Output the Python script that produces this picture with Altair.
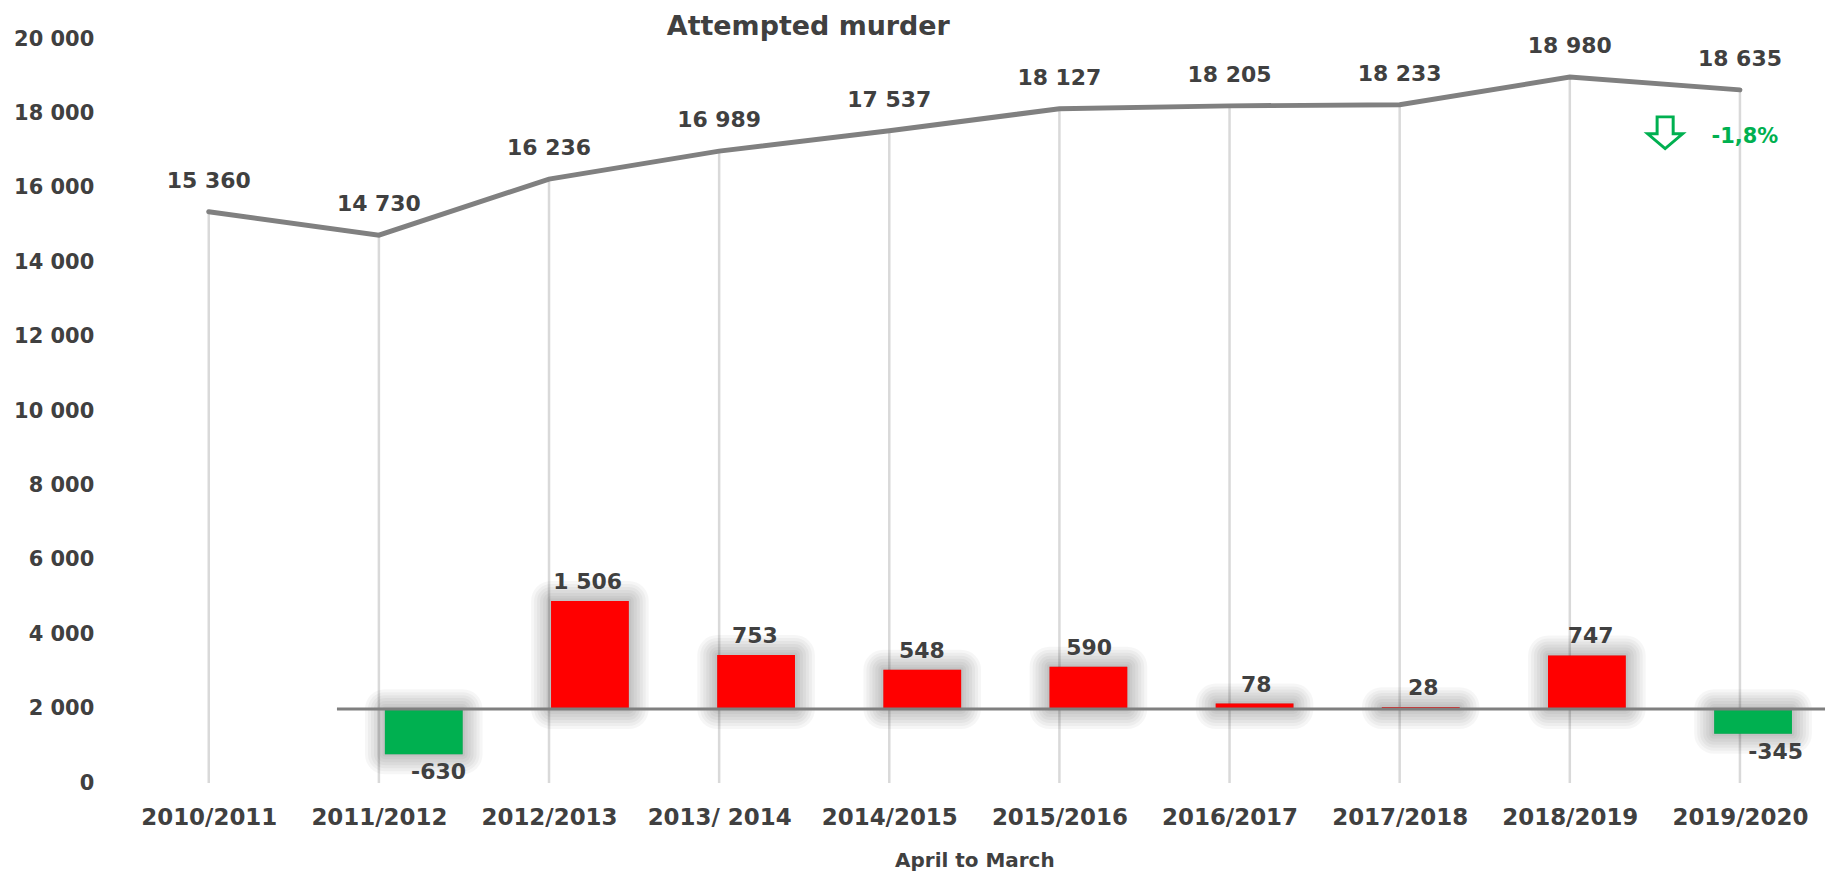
import altair as alt
import pandas as pd

# ---------------- data ----------------
years = ["2010/2011", "2011/2012", "2012/2013", "2013/ 2014", "2014/2015",
         "2015/2016", "2016/2017", "2017/2018", "2018/2019", "2019/2020"]
totals = [15360, 14730, 16236, 16989, 17537, 18127, 18205, 18233, 18980, 18635]
change_years = years[1:]
changes = [-630, 1506, 753, 548, 590, 78, 28, 747, -345]
y_ticks = list(range(0, 20001, 2000))

FONT = "DejaVu Sans"
TXT = "#404040"
GREEN = "#00b050"
RED = "#ff0000"
W, H = 1706, 746


def fmt(v):
    return f"{v:,}".replace(",", " ")


line_df = pd.DataFrame({"year": years, "total": totals, "base": 0,
                        "label": [fmt(v) for v in totals]})
bar_df = pd.DataFrame({"year": change_years,
                       "idx": list(range(1, len(changes) + 1)),
                       "change": changes, "base": 0,
                       "label": [fmt(v) for v in changes]})
pct = (totals[-1] - totals[-2]) / totals[-2] * 100
pct_df = pd.DataFrame({"year": [years[-1]], "total": [totals[-1]],
                       "label": [f"{pct:.1f}".replace(".", ",") + "%"]})

# secondary (change) axis settings
XQ_MIN, XQ_MAX = -0.776, 9.403
SEC_DOMAIN = [-1030, 9330]
base_df = pd.DataFrame({"start": [1 - 0.5], "end": [XQ_MAX], "change": [0]})

# ---------------- shared encodings ----------------
x_scale = alt.Scale(type="point", padding=0.5, domain=years)
y_scale = alt.Scale(domain=[0, 20000], nice=False, zero=False)
x_axis = alt.Axis(labelFont=FONT, labelFontSize=23, labelFontWeight="bold",
                  labelColor=TXT, labelPadding=24, ticks=False, domain=False,
                  grid=False, labelAngle=0, titleFont=FONT, titleFontSize=20,
                  titleFontWeight="bold", titleColor=TXT, titlePadding=21)
y_axis = alt.Axis(values=y_ticks, labelFont=FONT, labelFontSize=21,
                  labelFontWeight="bold", labelColor=TXT, labelPadding=30,
                  ticks=False, domain=False, grid=False,
                  labelExpr="replace(format(datum.value, ','), ',', ' ')")


def xb(axis=None):
    return alt.X("year:N", title="April to March", scale=x_scale, axis=axis)


def ym(axis=None):
    return alt.Y("total:Q", title=None, scale=y_scale, axis=axis)


xq_scale = alt.Scale(domain=[XQ_MIN, XQ_MAX], nice=False, zero=False)
ys_scale = alt.Scale(domain=SEC_DOMAIN, nice=False, zero=False)


def xq():
    return alt.X("idx:Q", scale=xq_scale, axis=None)


def ys():
    return alt.Y("change:Q", scale=ys_scale, axis=None)


# ---------------- primary layers ----------------
drop = alt.Chart(line_df).mark_rule(color="#d9d9d9", strokeWidth=2.5).encode(
    x=xb(x_axis), y=ym(y_axis), y2="base:Q")
line = alt.Chart(line_df).mark_line(color="#808080", strokeWidth=5, strokeCap="round").encode(
    x=xb(), y=ym())
line_lbl = alt.Chart(line_df).mark_text(dy=-31, font=FONT, fontSize=22, fontWeight="bold",
                                        color=TXT, baseline="middle").encode(
    x=xb(), y=ym(), text="label:N")

ARROW = "M -0.46 -0.91 L 0.46 -0.91 L 0.46 0.06 L 1 0.06 L 0 0.91 L -1 0.06 L -0.46 0.06 Z"
arrow = alt.Chart(pct_df).mark_point(shape=ARROW, filled=False, color=GREEN, strokeWidth=3,
                                     size=1225, opacity=1, xOffset=-75, yOffset=43).encode(
    x=xb(), y=ym())
pct_txt = alt.Chart(pct_df).mark_text(dx=5, dy=47, font=FONT, fontSize=21, fontWeight="bold",
                                      color=GREEN, baseline="middle").encode(
    x=xb(), y=ym(), text="label:N")

# ---------------- secondary layers ----------------
shadows = []
for sw in [40, 34, 28, 22, 16, 10, 5]:
    shadows.append(alt.Chart(bar_df).mark_bar(width=78, fill="#000", fillOpacity=0.035,
                                              stroke="#000", strokeOpacity=0.035,
                                              strokeWidth=sw, strokeJoin="round").encode(
        x=xq(), y=ys(), y2="base:Q"))

bars = alt.Chart(bar_df).mark_bar(width=78).encode(
    x=xq(), y=ys(), y2="base:Q",
    color=alt.condition("datum.change > 0", alt.value(RED), alt.value(GREEN)))

baseline = alt.Chart(base_df).mark_rule(color="#7f7f7f", strokeWidth=3).encode(
    x=alt.X("start:Q", scale=xq_scale, axis=None), x2="end:Q", y=ys())

lbl_pos = alt.Chart(bar_df).transform_filter("datum.change >= 0").mark_text(
    dy=-19, font=FONT, fontSize=22, fontWeight="bold", color=TXT, baseline="middle").encode(
    x=xq(), y=ys(), text="label:N")
lbl_neg = alt.Chart(bar_df).transform_filter("datum.change < 0").mark_text(
    dy=18, dx=18, font=FONT, fontSize=22, fontWeight="bold", color=TXT, baseline="middle").encode(
    x=xq(), y=ys(), text="label:N")

chart = alt.layer(
    drop, line, line_lbl, arrow, pct_txt,
    *shadows, bars, baseline, lbl_pos, lbl_neg
).resolve_scale(
    x="independent", y="independent"
).properties(
    width=W, height=H,
    title=alt.TitleParams("Attempted murder", anchor="start", dx=655, font=FONT,
                          fontSize=27, fontWeight="bold", color=TXT, offset=-13),
    padding={"left": 5, "top": 4, "right": 0, "bottom": 0},
).configure_view(stroke=None)

chart.save("out.html", embed_options={"renderer": "svg", "actions": False})
